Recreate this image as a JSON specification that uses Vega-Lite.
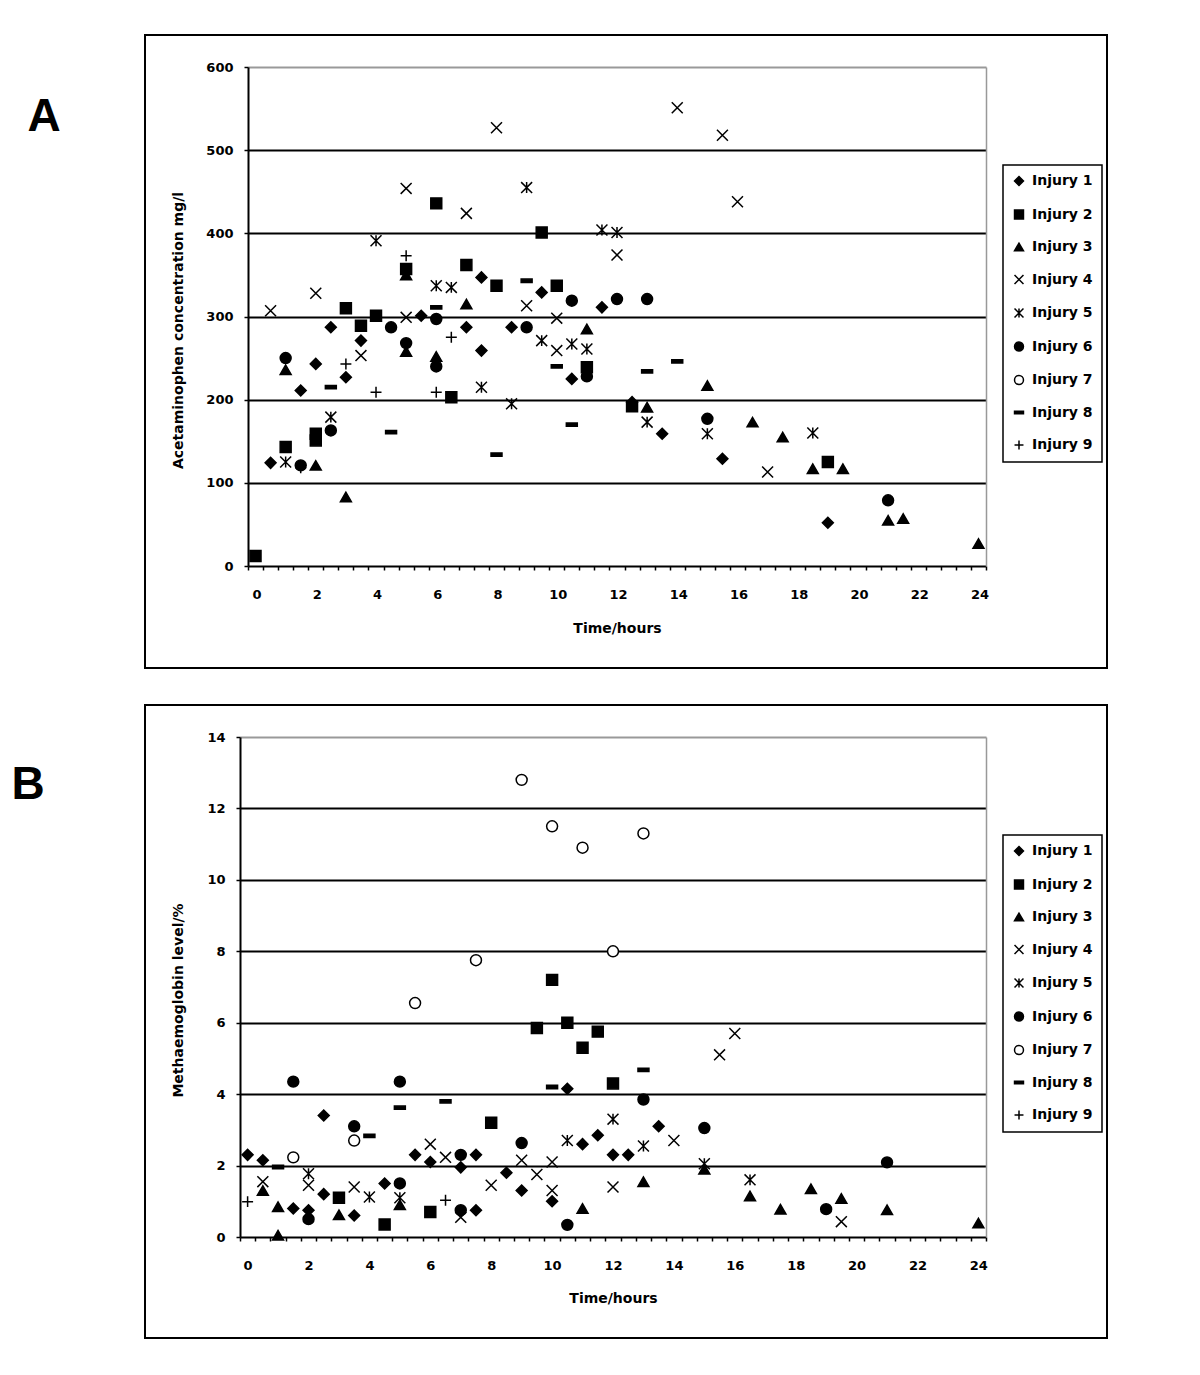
{
  "$schema": "https://vega.github.io/schema/vega-lite/v6.json",
  "background": "white",
  "padding": {"left": 10, "top": 34, "right": 10, "bottom": 10},
  "bounds": "flush",
  "spacing": 37,
  "config": {
    "view": {"stroke": "black", "strokeWidth": 2},
    "font": "DejaVu Sans",
    "axis": {"domainColor": "black", "domainWidth": 2, "tickColor": "black", "tickWidth": 1.5, "tickSize": 4, "labelColor": "black", "labelFont": "DejaVu Sans", "labelFontSize": 13, "labelFontWeight": "bold", "titleColor": "black", "titleFont": "DejaVu Sans", "titleFontSize": 14, "titleFontWeight": "bold"},
    "legend": {"strokeColor": "black", "strokeWidth": 1.5, "fillColor": "white", "padding": 9, "rowPadding": 17.5, "labelFont": "DejaVu Sans", "labelFontSize": 14, "labelFontWeight": "bold", "labelColor": "black", "symbolSize": 80, "labelOffset": 6}
  },
  "datasets": {
    "panelA": [
      {"series": "Injury 1", "time": 0.5, "conc": 124}, {"series": "Injury 1", "time": 1.5, "conc": 211}, {"series": "Injury 1", "time": 2, "conc": 243}, {"series": "Injury 1", "time": 2.5, "conc": 287}, {"series": "Injury 1", "time": 3, "conc": 227}, {"series": "Injury 1", "time": 3.5, "conc": 271}, {"series": "Injury 1", "time": 5.5, "conc": 301}, {"series": "Injury 1", "time": 7, "conc": 287}, {"series": "Injury 1", "time": 7.5, "conc": 347}, {"series": "Injury 1", "time": 7.5, "conc": 259}, {"series": "Injury 1", "time": 8.5, "conc": 287}, {"series": "Injury 1", "time": 9.5, "conc": 329}, {"series": "Injury 1", "time": 10.5, "conc": 225}, {"series": "Injury 1", "time": 11.5, "conc": 311}, {"series": "Injury 1", "time": 12.5, "conc": 197}, {"series": "Injury 1", "time": 13.5, "conc": 159}, {"series": "Injury 1", "time": 15.5, "conc": 129}, {"series": "Injury 1", "time": 19, "conc": 52},
      {"series": "Injury 2", "time": 0, "conc": 12}, {"series": "Injury 2", "time": 1, "conc": 143}, {"series": "Injury 2", "time": 2, "conc": 159}, {"series": "Injury 2", "time": 2, "conc": 151}, {"series": "Injury 2", "time": 3, "conc": 310}, {"series": "Injury 2", "time": 3.5, "conc": 289}, {"series": "Injury 2", "time": 4, "conc": 301}, {"series": "Injury 2", "time": 5, "conc": 357}, {"series": "Injury 2", "time": 6, "conc": 436}, {"series": "Injury 2", "time": 6.5, "conc": 203}, {"series": "Injury 2", "time": 7, "conc": 362}, {"series": "Injury 2", "time": 8, "conc": 337}, {"series": "Injury 2", "time": 9.5, "conc": 401}, {"series": "Injury 2", "time": 10, "conc": 337}, {"series": "Injury 2", "time": 11, "conc": 239}, {"series": "Injury 2", "time": 12.5, "conc": 192}, {"series": "Injury 2", "time": 19, "conc": 125},
      {"series": "Injury 3", "time": 1, "conc": 236}, {"series": "Injury 3", "time": 2, "conc": 121}, {"series": "Injury 3", "time": 3, "conc": 83}, {"series": "Injury 3", "time": 5, "conc": 350}, {"series": "Injury 3", "time": 5, "conc": 258}, {"series": "Injury 3", "time": 6, "conc": 252}, {"series": "Injury 3", "time": 7, "conc": 315}, {"series": "Injury 3", "time": 11, "conc": 285}, {"series": "Injury 3", "time": 13, "conc": 191}, {"series": "Injury 3", "time": 15, "conc": 217}, {"series": "Injury 3", "time": 16.5, "conc": 173}, {"series": "Injury 3", "time": 17.5, "conc": 155}, {"series": "Injury 3", "time": 18.5, "conc": 117}, {"series": "Injury 3", "time": 19.5, "conc": 117}, {"series": "Injury 3", "time": 21, "conc": 55}, {"series": "Injury 3", "time": 21.5, "conc": 57}, {"series": "Injury 3", "time": 24, "conc": 27},
      {"series": "Injury 4", "time": 0.5, "conc": 307}, {"series": "Injury 4", "time": 2, "conc": 328}, {"series": "Injury 4", "time": 3.5, "conc": 253}, {"series": "Injury 4", "time": 5, "conc": 454}, {"series": "Injury 4", "time": 5, "conc": 299}, {"series": "Injury 4", "time": 7, "conc": 424}, {"series": "Injury 4", "time": 8, "conc": 527}, {"series": "Injury 4", "time": 9, "conc": 313}, {"series": "Injury 4", "time": 10, "conc": 298}, {"series": "Injury 4", "time": 10, "conc": 259}, {"series": "Injury 4", "time": 12, "conc": 374}, {"series": "Injury 4", "time": 14, "conc": 551}, {"series": "Injury 4", "time": 15.5, "conc": 518}, {"series": "Injury 4", "time": 16, "conc": 438}, {"series": "Injury 4", "time": 17, "conc": 113},
      {"series": "Injury 5", "time": 1, "conc": 125}, {"series": "Injury 5", "time": 2.5, "conc": 179}, {"series": "Injury 5", "time": 4, "conc": 391}, {"series": "Injury 5", "time": 6, "conc": 337}, {"series": "Injury 5", "time": 6.5, "conc": 335}, {"series": "Injury 5", "time": 7.5, "conc": 215}, {"series": "Injury 5", "time": 8.5, "conc": 195}, {"series": "Injury 5", "time": 9, "conc": 455}, {"series": "Injury 5", "time": 9.5, "conc": 271}, {"series": "Injury 5", "time": 10.5, "conc": 267}, {"series": "Injury 5", "time": 11, "conc": 261}, {"series": "Injury 5", "time": 11.5, "conc": 404}, {"series": "Injury 5", "time": 12, "conc": 401}, {"series": "Injury 5", "time": 13, "conc": 173}, {"series": "Injury 5", "time": 15, "conc": 159}, {"series": "Injury 5", "time": 18.5, "conc": 160},
      {"series": "Injury 6", "time": 1, "conc": 250}, {"series": "Injury 6", "time": 1.5, "conc": 121}, {"series": "Injury 6", "time": 2.5, "conc": 163}, {"series": "Injury 6", "time": 4.5, "conc": 287}, {"series": "Injury 6", "time": 5, "conc": 268}, {"series": "Injury 6", "time": 6, "conc": 297}, {"series": "Injury 6", "time": 6, "conc": 240}, {"series": "Injury 6", "time": 9, "conc": 287}, {"series": "Injury 6", "time": 10.5, "conc": 319}, {"series": "Injury 6", "time": 11, "conc": 228}, {"series": "Injury 6", "time": 12, "conc": 321}, {"series": "Injury 6", "time": 13, "conc": 321}, {"series": "Injury 6", "time": 15, "conc": 177}, {"series": "Injury 6", "time": 21, "conc": 79},
      {"series": "Injury 8", "time": 2.5, "conc": 215}, {"series": "Injury 8", "time": 4.5, "conc": 161}, {"series": "Injury 8", "time": 6, "conc": 311}, {"series": "Injury 8", "time": 8, "conc": 134}, {"series": "Injury 8", "time": 9, "conc": 343}, {"series": "Injury 8", "time": 10, "conc": 240}, {"series": "Injury 8", "time": 10.5, "conc": 170}, {"series": "Injury 8", "time": 13, "conc": 234}, {"series": "Injury 8", "time": 14, "conc": 246},
      {"series": "Injury 9", "time": 1.5, "conc": 118}, {"series": "Injury 9", "time": 3, "conc": 243}, {"series": "Injury 9", "time": 4, "conc": 209}, {"series": "Injury 9", "time": 5, "conc": 373}, {"series": "Injury 9", "time": 6, "conc": 209}, {"series": "Injury 9", "time": 6.5, "conc": 275}
    ],
    "panelB": [
      {"series": "Injury 1", "time": 0, "met": 2.3}, {"series": "Injury 1", "time": 0.5, "met": 2.15}, {"series": "Injury 1", "time": 1.5, "met": 0.8}, {"series": "Injury 1", "time": 2, "met": 0.75}, {"series": "Injury 1", "time": 2.5, "met": 3.4}, {"series": "Injury 1", "time": 2.5, "met": 1.2}, {"series": "Injury 1", "time": 3.5, "met": 0.6}, {"series": "Injury 1", "time": 4.5, "met": 1.5}, {"series": "Injury 1", "time": 5.5, "met": 2.3}, {"series": "Injury 1", "time": 6, "met": 2.1}, {"series": "Injury 1", "time": 7, "met": 1.95}, {"series": "Injury 1", "time": 7.5, "met": 2.3}, {"series": "Injury 1", "time": 7.5, "met": 0.75}, {"series": "Injury 1", "time": 8.5, "met": 1.8}, {"series": "Injury 1", "time": 9, "met": 1.3}, {"series": "Injury 1", "time": 10, "met": 1.0}, {"series": "Injury 1", "time": 10.5, "met": 4.15}, {"series": "Injury 1", "time": 11, "met": 2.6}, {"series": "Injury 1", "time": 11.5, "met": 2.85}, {"series": "Injury 1", "time": 12, "met": 2.3}, {"series": "Injury 1", "time": 12.5, "met": 2.3}, {"series": "Injury 1", "time": 13.5, "met": 3.1},
      {"series": "Injury 2", "time": 3, "met": 1.1}, {"series": "Injury 2", "time": 4.5, "met": 0.35}, {"series": "Injury 2", "time": 6, "met": 0.7}, {"series": "Injury 2", "time": 8, "met": 3.2}, {"series": "Injury 2", "time": 9.5, "met": 5.85}, {"series": "Injury 2", "time": 10, "met": 7.2}, {"series": "Injury 2", "time": 10.5, "met": 6.0}, {"series": "Injury 2", "time": 11, "met": 5.3}, {"series": "Injury 2", "time": 11.5, "met": 5.75}, {"series": "Injury 2", "time": 12, "met": 4.3},
      {"series": "Injury 3", "time": 0.5, "met": 1.3}, {"series": "Injury 3", "time": 1, "met": 0.85}, {"series": "Injury 3", "time": 1, "met": 0.05}, {"series": "Injury 3", "time": 3, "met": 0.62}, {"series": "Injury 3", "time": 5, "met": 0.9}, {"series": "Injury 3", "time": 11, "met": 0.8}, {"series": "Injury 3", "time": 13, "met": 1.55}, {"series": "Injury 3", "time": 15, "met": 1.9}, {"series": "Injury 3", "time": 16.5, "met": 1.15}, {"series": "Injury 3", "time": 17.5, "met": 0.78}, {"series": "Injury 3", "time": 18.5, "met": 1.35}, {"series": "Injury 3", "time": 19.5, "met": 1.08}, {"series": "Injury 3", "time": 21, "met": 0.76}, {"series": "Injury 3", "time": 24, "met": 0.39},
      {"series": "Injury 4", "time": 0.5, "met": 1.55}, {"series": "Injury 4", "time": 2, "met": 1.45}, {"series": "Injury 4", "time": 3.5, "met": 1.4}, {"series": "Injury 4", "time": 6, "met": 2.6}, {"series": "Injury 4", "time": 6.5, "met": 2.23}, {"series": "Injury 4", "time": 7, "met": 0.55}, {"series": "Injury 4", "time": 8, "met": 1.45}, {"series": "Injury 4", "time": 9, "met": 2.15}, {"series": "Injury 4", "time": 9.5, "met": 1.75}, {"series": "Injury 4", "time": 10, "met": 2.1}, {"series": "Injury 4", "time": 10, "met": 1.3}, {"series": "Injury 4", "time": 12, "met": 1.4}, {"series": "Injury 4", "time": 14, "met": 2.7}, {"series": "Injury 4", "time": 15.5, "met": 5.1}, {"series": "Injury 4", "time": 16, "met": 5.7}, {"series": "Injury 4", "time": 19.5, "met": 0.43},
      {"series": "Injury 5", "time": 2, "met": 1.77}, {"series": "Injury 5", "time": 4, "met": 1.12}, {"series": "Injury 5", "time": 5, "met": 1.1}, {"series": "Injury 5", "time": 10.5, "met": 2.7}, {"series": "Injury 5", "time": 12, "met": 3.3}, {"series": "Injury 5", "time": 13, "met": 2.55}, {"series": "Injury 5", "time": 15, "met": 2.05}, {"series": "Injury 5", "time": 16.5, "met": 1.6},
      {"series": "Injury 6", "time": 1.5, "met": 4.35}, {"series": "Injury 6", "time": 2, "met": 0.5}, {"series": "Injury 6", "time": 3.5, "met": 3.1}, {"series": "Injury 6", "time": 5, "met": 4.35}, {"series": "Injury 6", "time": 5, "met": 1.5}, {"series": "Injury 6", "time": 7, "met": 0.75}, {"series": "Injury 6", "time": 7, "met": 2.3}, {"series": "Injury 6", "time": 9, "met": 2.63}, {"series": "Injury 6", "time": 10.5, "met": 0.34}, {"series": "Injury 6", "time": 13, "met": 3.85}, {"series": "Injury 6", "time": 15, "met": 3.05}, {"series": "Injury 6", "time": 19, "met": 0.78}, {"series": "Injury 6", "time": 21, "met": 2.09},
      {"series": "Injury 7", "time": 1.5, "met": 2.23}, {"series": "Injury 7", "time": 3.5, "met": 2.7}, {"series": "Injury 7", "time": 5.5, "met": 6.55}, {"series": "Injury 7", "time": 7.5, "met": 7.75}, {"series": "Injury 7", "time": 9, "met": 12.8}, {"series": "Injury 7", "time": 10, "met": 11.5}, {"series": "Injury 7", "time": 11, "met": 10.9}, {"series": "Injury 7", "time": 12, "met": 8.0}, {"series": "Injury 7", "time": 13, "met": 11.3},
      {"series": "Injury 8", "time": 1, "met": 1.96}, {"series": "Injury 8", "time": 4, "met": 2.83}, {"series": "Injury 8", "time": 5, "met": 3.62}, {"series": "Injury 8", "time": 6.5, "met": 3.8}, {"series": "Injury 8", "time": 10, "met": 4.2}, {"series": "Injury 8", "time": 13, "met": 4.68},
      {"series": "Injury 9", "time": 0, "met": 0.99}, {"series": "Injury 9", "time": 6.5, "met": 1.03}
    ]
  },
  "vconcat": [
    {
      "width": 962,
      "height": 633,
      "title": {"text": "A", "orient": "left", "anchor": "end", "angle": 0, "align": "right", "baseline": "top", "offset": 51, "dy": 60, "font": "Liberation Sans", "fontSize": 46, "fontWeight": "bold", "color": "black"},
      "data": {"name": "panelA"},
      "layer": [
        {
          "mark": {"type": "point", "filled": true, "stroke": "black", "strokeWidth": 1.5, "size": 120, "opacity": 1},
          "encoding": {
            "x": {"field": "time", "type": "quantitative",
              "scale": {"domain": [-0.25, 24.25], "range": [103, 841], "zero": false, "nice": false},
              "axis": {"orient": "bottom", "offset": -102,
                "values": [-0.25,0.25,0.75,1.25,1.75,2.25,2.75,3.25,3.75,4.25,4.75,5.25,5.75,6.25,6.75,7.25,7.75,8.25,8.75,9.25,9.75,10.25,10.75,11.25,11.75,12.25,12.75,13.25,13.75,14.25,14.75,15.25,15.75,16.25,16.75,17.25,17.75,18.25,18.75,19.25,19.75,20.25,20.75,21.25,21.75,22.25,22.75,23.25,23.75,24.25],
                "labelExpr": "(datum.value + 0.25) % 2 == 0 ? format(datum.value + 0.25, 'd') : ''",
                "labelOffset": 8.5, "labelPadding": 18, "labelOverlap": false, "labelFlush": false, "grid": false,
                "title": "Time/hours", "titleX": 472, "titleY": 62, "titleAlign": "center", "titleBaseline": "middle", "titleAngle": 0}},
            "y": {"field": "conc", "type": "quantitative",
              "scale": {"domain": [0, 600], "range": [531, 32], "zero": false, "nice": false},
              "axis": {"orient": "left", "offset": -103, "values": [0, 100, 200, 300, 400, 500, 600], "labelPadding": 11,
                "grid": true, "gridWidth": 2,
                "gridColor": {"condition": {"test": "datum.value == 600", "value": "#999999"}, "value": "black"},
                "gridOpacity": {"condition": {"test": "datum.value == 0", "value": 0}, "value": 1},
                "title": "Acetaminophen concentration mg/l", "titleX": -70, "titleY": 295, "titleAngle": -90, "titleAlign": "center", "titleBaseline": "middle"}},
            "shape": {"field": "series", "type": "nominal",
              "scale": {"domain": ["Injury 1","Injury 2","Injury 3","Injury 4","Injury 5","Injury 6","Injury 7","Injury 8","Injury 9"],
                "range": ["diamond","square","triangle-up","M-1,-1L1,1M1,-1L-1,1","M-1,-1L1,1M1,-1L-1,1M0,-1L0,1","circle","circle","M-1,-0.3H1V0.3H-1Z","M-1,0H1M0,-1V1"]},
              "legend": {"title": null, "orient": "none", "legendX": 858, "legendY": 130, "encode": {"symbols": {"update": {"stroke": {"value": "black"}, "strokeWidth": {"value": 1.5}}}}}},
            "fill": {"field": "series", "type": "nominal",
              "scale": {"domain": ["Injury 1","Injury 2","Injury 3","Injury 4","Injury 5","Injury 6","Injury 7","Injury 8","Injury 9"],
                "range": ["black","black","black","black","black","black","white","black","black"]},
              "legend": {"title": null, "orient": "none", "legendX": 858, "legendY": 130, "encode": {"symbols": {"update": {"stroke": {"value": "black"}, "strokeWidth": {"value": 1.5}}}}}}
          }
        },
        {
          "mark": {"type": "point", "opacity": 0},
          "encoding": {
            "y": {"field": "conc", "type": "quantitative",
              "axis": {"orient": "right", "offset": -121, "domainColor": "#999999", "domainWidth": 1.5, "ticks": false, "labels": false, "grid": false, "title": null}}
          }
        }
      ],
      "resolve": {"axis": {"y": "independent"}}
    },
    {
      "width": 962,
      "height": 633,
      "title": {"text": "B", "orient": "left", "anchor": "end", "angle": 0, "align": "right", "baseline": "top", "offset": 67, "dy": 58, "font": "Liberation Sans", "fontSize": 46, "fontWeight": "bold", "color": "black"},
      "data": {"name": "panelB"},
      "layer": [
        {
          "mark": {"type": "point", "filled": true, "stroke": "black", "strokeWidth": 1.5, "size": 120, "opacity": 1},
          "encoding": {
            "x": {"field": "time", "type": "quantitative",
              "scale": {"domain": [-0.25, 24.25], "range": [95, 841], "zero": false, "nice": false},
              "axis": {"orient": "bottom", "offset": -101,
                "values": [-0.25,0.25,0.75,1.25,1.75,2.25,2.75,3.25,3.75,4.25,4.75,5.25,5.75,6.25,6.75,7.25,7.75,8.25,8.75,9.25,9.75,10.25,10.75,11.25,11.75,12.25,12.75,13.25,13.75,14.25,14.75,15.25,15.75,16.25,16.75,17.25,17.75,18.25,18.75,19.25,19.75,20.25,20.75,21.25,21.75,22.25,22.75,23.25,23.75,24.25],
                "labelExpr": "(datum.value + 0.25) % 2 == 0 ? format(datum.value + 0.25, 'd') : ''",
                "labelOffset": 7.6, "labelPadding": 18, "labelOverlap": false, "labelFlush": false, "grid": false,
                "title": "Time/hours", "titleX": 468, "titleY": 61, "titleAlign": "center", "titleBaseline": "middle", "titleAngle": 0}},
            "y": {"field": "met", "type": "quantitative",
              "scale": {"domain": [0, 14], "range": [532, 32], "zero": false, "nice": false},
              "axis": {"orient": "left", "offset": -95, "values": [0, 2, 4, 6, 8, 10, 12, 14], "labelPadding": 11,
                "grid": true, "gridWidth": 2,
                "gridColor": {"condition": {"test": "datum.value == 14", "value": "#999999"}, "value": "black"},
                "gridOpacity": {"condition": {"test": "datum.value == 0", "value": 0}, "value": 1},
                "title": "Methaemoglobin level/%", "titleX": -62, "titleY": 295, "titleAngle": -90, "titleAlign": "center", "titleBaseline": "middle"}},
            "shape": {"field": "series", "type": "nominal",
              "scale": {"domain": ["Injury 1","Injury 2","Injury 3","Injury 4","Injury 5","Injury 6","Injury 7","Injury 8","Injury 9"],
                "range": ["diamond","square","triangle-up","M-1,-1L1,1M1,-1L-1,1","M-1,-1L1,1M1,-1L-1,1M0,-1L0,1","circle","circle","M-1,-0.3H1V0.3H-1Z","M-1,0H1M0,-1V1"]},
              "legend": {"title": null, "orient": "none", "legendX": 858, "legendY": 130, "encode": {"symbols": {"update": {"stroke": {"value": "black"}, "strokeWidth": {"value": 1.5}}}}}},
            "fill": {"field": "series", "type": "nominal",
              "scale": {"domain": ["Injury 1","Injury 2","Injury 3","Injury 4","Injury 5","Injury 6","Injury 7","Injury 8","Injury 9"],
                "range": ["black","black","black","black","black","black","white","black","black"]},
              "legend": {"title": null, "orient": "none", "legendX": 858, "legendY": 130, "encode": {"symbols": {"update": {"stroke": {"value": "black"}, "strokeWidth": {"value": 1.5}}}}}}
          }
        },
        {
          "mark": {"type": "point", "opacity": 0},
          "encoding": {
            "y": {"field": "met", "type": "quantitative",
              "axis": {"orient": "right", "offset": -121, "domainColor": "#999999", "domainWidth": 1.5, "ticks": false, "labels": false, "grid": false, "title": null}}
          }
        }
      ],
      "resolve": {"axis": {"y": "independent"}}
    }
  ],
  "resolve": {"scale": {"shape": "independent", "fill": "independent", "x": "independent", "y": "independent"}}
}
